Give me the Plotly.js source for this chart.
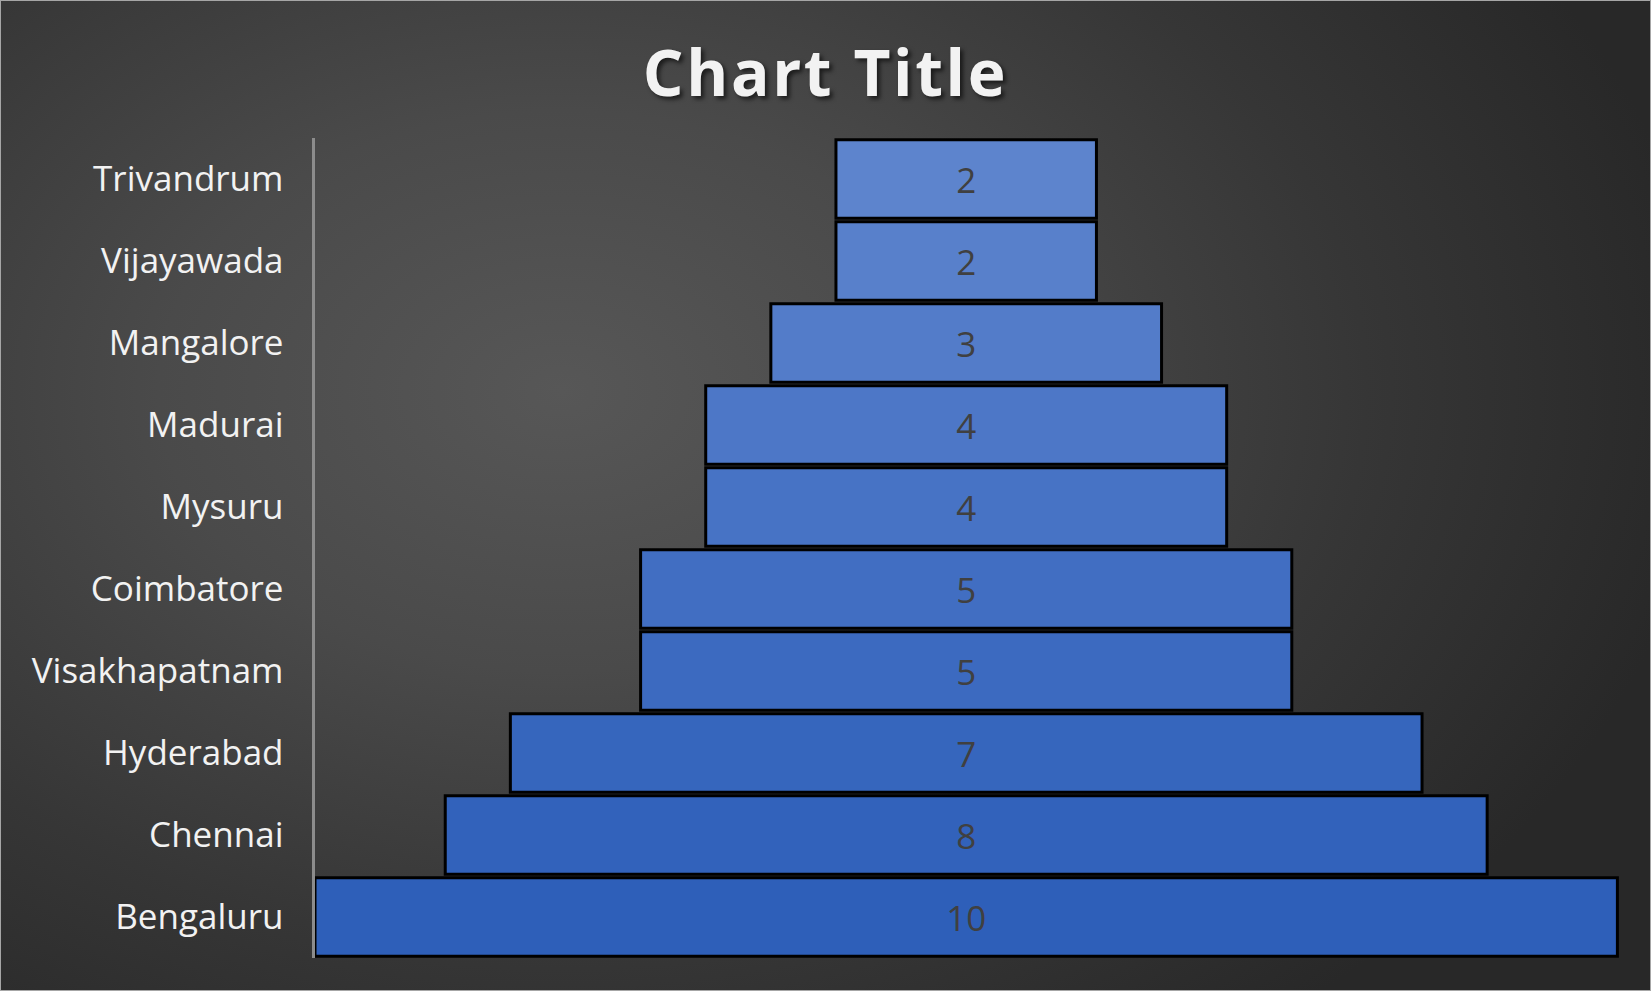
<!DOCTYPE html>
<html>
<head>
<meta charset="utf-8">
<script src="https://cdn.plot.ly/plotly-3.0.1.min.js"></script>
<style>
  html, body { margin: 0; padding: 0; width: 1651px; height: 991px; overflow: hidden; }
  #chart {
    width: 1651px; height: 991px; box-sizing: border-box;
    border: 1px solid #a6a6a6;
    background: radial-gradient(ellipse 1150px 800px at 560px 390px, #575757 0%, #4a4a4a 35%, #363636 70%, #282828 100%);
  }
  .gtitle { letter-spacing: 2.6px; }
</style>
</head>
<body>
<div id="chart"></div>
<script>
const cities = ["Trivandrum", "Vijayawada", "Mangalore", "Madurai", "Mysuru",
                "Coimbatore", "Visakhapatnam", "Hyderabad", "Chennai", "Bengaluru"];
const values = [2, 2, 3, 4, 4, 5, 5, 7, 8, 10];
const barColors = ["#5d84cd", "#5880cb", "#537cc9", "#4d77c7", "#4773c5",
                   "#416ec2", "#3c6ac0", "#3666bd", "#3262bb", "#2e5fb9"];

const trace = {
  type: "funnel",
  orientation: "h",
  y: cities,
  x: values,
  marker: { color: barColors, line: { color: "#000000", width: 3 } },
  connector: { visible: false },
  textinfo: "value",
  textposition: "inside",
  insidetextanchor: "middle",
  textfont: { family: "Open Sans, sans-serif", size: 35, color: "#404040" },
  hoverinfo: "skip"
};

const layout = {
  width: 1649, height: 989,
  paper_bgcolor: "rgba(0,0,0,0)",
  plot_bgcolor: "rgba(0,0,0,0)",
  margin: { l: 314, r: 30, t: 137, b: 32 },
  funnelgap: 0.04,
  showlegend: false,
  title: {
    text: "<b>Chart Title</b>",
    x: 0.5, xanchor: "center",
    y: 0.927, yanchor: "middle",
    font: { family: "Open Sans, sans-serif", size: 64, color: "#f2f2f2",
            shadow: "3px 3px 4px rgba(0,0,0,0.6)" }
  },
  xaxis: { visible: false, range: [-5.0, 5.02], fixedrange: true },
  yaxis: {
    showline: true, linecolor: "#8c8c8c", linewidth: 3.5,
    showgrid: false, zeroline: false, ticks: "",
    ticklabelstandoff: 21,
    tickfont: { family: "Open Sans, sans-serif", size: 35, color: "#f2f2f2" },
    fixedrange: true
  }
};

Plotly.newPlot("chart", [trace], layout, { displayModeBar: false, staticPlot: true });
</script>
</body>
</html>
